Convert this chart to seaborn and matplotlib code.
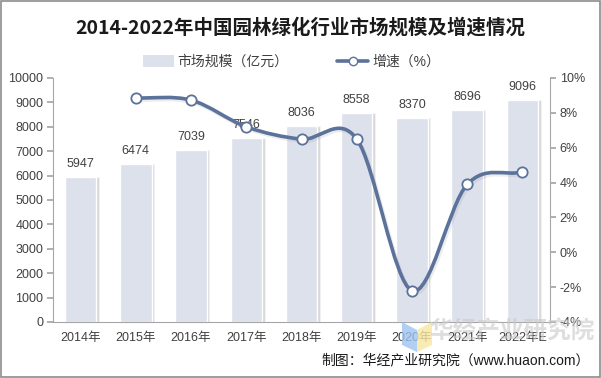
import numpy as np
import pandas as pd
import matplotlib
matplotlib.use("Agg")
import matplotlib.pyplot as plt
import seaborn as sns
from matplotlib.path import Path
from matplotlib.patches import PathPatch, Patch, Rectangle, Polygon
from matplotlib.lines import Line2D
from matplotlib.transforms import ScaledTranslation

years = ["2014年", "2015年", "2016年", "2017年", "2018年", "2019年", "2020年", "2021年", "2022年E"]
market = [5947, 6474, 7039, 7546, 8036, 8558, 8370, 8696, 9096]
growth = [None, 8.86, 8.73, 7.20, 6.49, 6.50, -2.20, 3.89, 4.60]
left_ticks = [0, 1000, 2000, 3000, 4000, 5000, 6000, 7000, 8000, 9000, 10000]
right_ticks = [-4, -2, 0, 2, 4, 6, 8, 10]

sns.set_theme(style="white")
plt.rcParams['font.family'] = ['Liberation Sans', 'Noto Sans CJK SC', 'DejaVu Sans']

BAR = "#DDE1EC"
LINE = "#5B729B"
TXT = "#404040"
AX = "#A6A6A6"

fig = plt.figure(figsize=(6.01, 3.78), dpi=100)
ax = fig.add_axes([53/601, 1-322/378, (550-53)/601, (322-78)/378])

df = pd.DataFrame({"year": years, "market": market})
xs = np.arange(len(years))
# shadow bars
ax.bar(xs + 0.045, market, width=0.57, color="#8F8F8F", alpha=0.35, zorder=1)
sns.barplot(data=df, x="year", y="market", color=BAR, width=0.57, saturation=1, ax=ax, zorder=2)
for x, v in zip(xs, market):
    ax.text(x, v + 280, f"{v}", ha="center", va="bottom", fontsize=9, color=TXT, zorder=6)

ax.set_xlim(-0.5, len(years) - 0.5)
ax.set_ylim(0, 10000)
ax.set_yticks(left_ticks)
ax.set_yticklabels([str(t) for t in left_ticks], fontsize=9, color=TXT)
ax.set_xlabel("")
ax.set_ylabel("")
ax.set_xticks(xs)
ax.set_xticklabels(years, fontsize=9, color=TXT)
ax.set_xticks(np.arange(-0.5, len(years), 1), minor=True)
ax.tick_params(axis="x", which="major", length=0, pad=7)
ax.tick_params(axis="x", which="minor", length=4, color=AX, direction="out")
ax.tick_params(axis="y", length=4, color=AX, direction="out", pad=3, left=True)
for s in ["top", "right"]:
    ax.spines[s].set_visible(False)
for s in ["left", "bottom"]:
    ax.spines[s].set_color(AX)
    ax.spines[s].set_linewidth(0.8)

ax2 = ax.twinx()
ax2.set_ylim(-4, 10)
ax2.set_yticks(right_ticks)
ax2.set_yticklabels([f"{t}%" for t in right_ticks], fontsize=9, color=TXT)
ax2.tick_params(axis="y", length=4, color=AX, direction="out", pad=3, right=True)
for s in ["top", "left", "bottom"]:
    ax2.spines[s].set_visible(False)
ax2.spines["right"].set_color(AX)
ax2.spines["right"].set_linewidth(0.8)
ax2.grid(False)
ax.grid(False)

# smooth line through growth points (cubic Bezier segments, Catmull-Rom tangents)
gx = np.array([i for i, g in enumerate(growth) if g is not None], dtype=float)
gy = np.array([g for g in growth if g is not None], dtype=float)
n = len(gx)
tx = np.zeros(n); ty = np.zeros(n)
for i in range(n):
    a = max(i - 1, 0); b = min(i + 1, n - 1)
    tx[i] = (gx[b] - gx[a]) / (b - a)
    ty[i] = (gy[b] - gy[a]) / (b - a)
verts = [(gx[0], gy[0])]
codes = [Path.MOVETO]
k = 1/3
for i in range(n - 1):
    verts += [(gx[i] + tx[i]*k, gy[i] + ty[i]*k),
              (gx[i+1] - tx[i+1]*k, gy[i+1] - ty[i+1]*k),
              (gx[i+1], gy[i+1])]
    codes += [Path.CURVE4] * 3
curve = Path(verts, codes)
shadow_tr = ax2.transData + ScaledTranslation(1.2/72, -1.5/72, fig.dpi_scale_trans)
ax2.add_patch(PathPatch(curve, facecolor="none", edgecolor="#888888", alpha=0.15, lw=2.8,
                        zorder=3.5, transform=shadow_tr))
ax2.add_patch(PathPatch(curve, facecolor="none", edgecolor=LINE, lw=2.6, zorder=4,
                        capstyle="round", joinstyle="round"))
sns.scatterplot(x=gx, y=gy, ax=ax2, s=55, color="white", edgecolor=LINE, linewidth=1.3, zorder=5, legend=False)
ax2.set_xlim(-0.5, len(years) - 0.5)

# title
fig.text(0.5, 1-28/378, "2014-2022年中国园林绿化行业市场规模及增速情况", ha="center", va="center",
         fontsize=14, fontweight="bold", color="#1a1a1a", family=['Noto Sans CJK SC'])

# legend
handles = [Patch(facecolor=BAR, edgecolor="none"),
           Line2D([0], [0], color=LINE, lw=2.6, marker="o", markerfacecolor="white",
                  markeredgecolor=LINE, markersize=6)]
fig.legend(handles, ["市场规模（亿元）", "增速（%）"], loc="center", bbox_to_anchor=(0.485, 1-62/378),
           ncol=2, frameon=False, fontsize=10, handlelength=2.2, handleheight=0.9, columnspacing=3.5,
           handletextpad=0.3, labelcolor=TXT)

# watermark
fig.patches.append(Polygon([[402/601, 1-322/378], [417/601, 1-330/378], [417/601, 1-352/378], [402/601, 1-345/378]],
                           closed=True, transform=fig.transFigure, facecolor="#9EC3F0", alpha=0.8, edgecolor="none"))
fig.patches.append(Polygon([[417/601, 1-330/378], [432/601, 1-322/378], [432/601, 1-345/378], [417/601, 1-352/378]],
                           closed=True, transform=fig.transFigure, facecolor="#F7E6A0", alpha=0.8, edgecolor="none"))
fig.text(512/601, 1-331/378, "华经产业研究院", ha="center", va="center", fontsize=17, fontweight="bold",
         color="#C8C8C8", alpha=0.6, family=['Noto Sans CJK SC'])

# footer
fig.text(590/601, 1-360/378, "制图：华经产业研究院（www.huaon.com）", ha="right", va="center",
         fontsize=10, color="#1a1a1a")

# frame
fig.patches.append(Rectangle((0.001, 0.002), 0.997, 0.996, transform=fig.transFigure,
                             facecolor="none", edgecolor="#8C8C8C", lw=1.2))

fig.savefig("out.png", dpi=100)
